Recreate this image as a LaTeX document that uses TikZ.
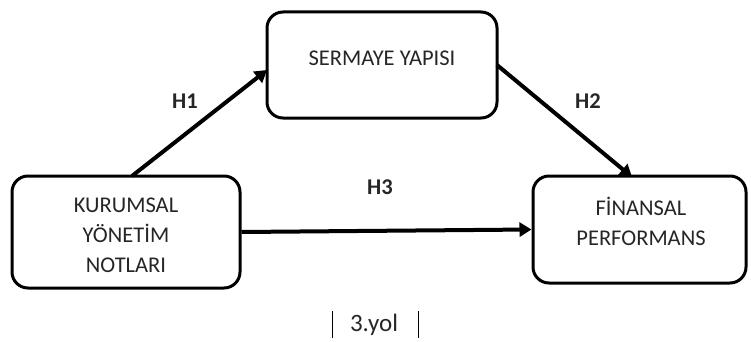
\documentclass[tikz,border=0pt]{standalone}
\usepackage{fontspec}
\setmainfont{Carlito}
\usetikzlibrary{arrows.meta}
\begin{document}
\begin{tikzpicture}[x=1pt,y=-1pt,
  block/.style={draw, line width=3pt, rounded corners=16pt, inner sep=0pt},
  blocktext/.style={align=center, font=\fontsize{22.5}{30}\selectfont, inner sep=0pt, text=black!85},
  link/.style={line width=4pt, -{Triangle[length=12pt,width=14pt]}},
  hyp/.style={font=\fontsize{22.5}{24}\selectfont\bfseries, text=black!85}]
  \useasboundingbox (0,0) rectangle (751,342);
  \fill[white] (0,0) rectangle (751,342);

  % the three boxes
  \node[block, minimum width=228pt, minimum height=112pt] (kyn) at (126,232) {};
  \node[block, minimum width=230pt, minimum height=106pt] (sy) at (382,65) {};
  \node[block, minimum width=213pt, minimum height=107pt] (fp) at (639.5,229.5) {};

  % box captions
  \node[blocktext] (kynt) at (126,235.5) {KURUMSAL\\YÖNETİM\\NOTLARI};
  \node[blocktext] (syt) at (382,58) {SERMAYE YAPISI};
  \node[blocktext] (fpt) at (641,221.5) {FİNANSAL\\PERFORMANS};

  % paths between the boxes
  \coordinate (a1) at (132,176);
  \coordinate (b1) at (267,70);
  \coordinate (a2) at (497,65);
  \coordinate (b2) at (632,177);
  \draw[link] (a1) -- (b1);
  \draw[link] (a2) -- (b2);
  \draw[link] (kyn.east) -- (fp.west);

  \node[hyp] (h1) at (185,101) {H1};
  \node[hyp] (h2) at (588,101) {H2};
  \node[hyp] (h3) at (380,187) {H3};

  \node[font=\fontsize{25}{26}\selectfont, text=black!85] (yol) at (374,325) {3.yol};
  \draw[line width=0.8pt] (332,311) -- (332,338);
  \draw[line width=0.8pt] (418,311) -- (418,338);
\end{tikzpicture}
\end{document}
